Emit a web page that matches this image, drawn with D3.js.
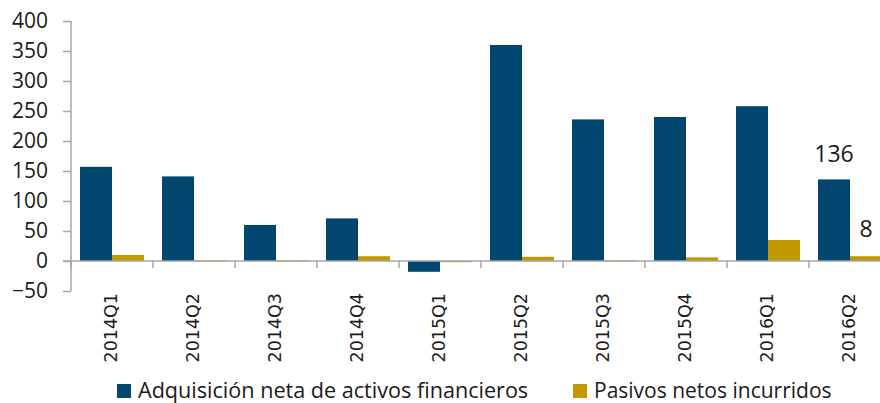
<!DOCTYPE html>
<html><head><meta charset="utf-8">
<script src="https://cdn.jsdelivr.net/npm/d3@7"></script>
<style>body{margin:0;background:#fff}</style>
</head><body>
<svg id="c" width="880" height="403"></svg>
<script>
const categories = ["2014Q1","2014Q2","2014Q3","2014Q4","2015Q1","2015Q2","2015Q3","2015Q4","2016Q1","2016Q2"];
const adquisicion = [157,141,60,71,-18,360,236,240,258,136];
const pasivos = [10,1,1,8,-2,7,1,6,35,8];
const yTicks = [-50,0,50,100,150,200,250,300,350,400];
const seriesNames = ["Adquisición neta de activos financieros","Pasivos netos incurridos"];
const colors = ["#00466e","#c09a00"];

const svg = d3.select("#c");
const x = d3.scaleBand().domain(categories).range([71, 891]).paddingInner(0).paddingOuter(0);
const y = d3.scaleLinear().domain([-50,400]).range([291,21]);
const gap = 0.11;
const sub = d3.scaleBand().domain([0,1]).range([x.bandwidth()*gap, x.bandwidth()*(1-gap)]);
const axisCol = "#a6a6a6";
const txtFont = "'Open Sans', sans-serif";

// bars
const series = [adquisicion, pasivos];
series.forEach((vals, si) => {
  svg.append("g").selectAll("rect").data(vals).join("rect")
    .attr("x", (d,i) => x(categories[i]) + sub(si))
    .attr("width", sub.bandwidth())
    .attr("y", d => y(Math.max(0,d)))
    .attr("height", d => Math.max(1, Math.abs(y(d)-y(0))))
    .attr("fill", colors[si]);
});

// y axis
const yAxis = d3.axisLeft(y).tickValues(yTicks).tickSize(8).tickPadding(15).tickFormat(d3.format("d"));
const gy = svg.append("g").attr("transform","translate(71,0)").call(yAxis);
gy.select(".domain").attr("stroke",axisCol).attr("stroke-width",1.5).attr("d","M0,21V291");
gy.selectAll(".tick line").attr("stroke",axisCol).attr("stroke-width",1.5);
gy.selectAll(".tick text").attr("font-family",txtFont).attr("font-size",21).attr("fill","#1a1a1a");

// x axis at zero
const xAxis = d3.axisBottom(x).tickSize(0).tickFormat("");
const gx = svg.append("g").attr("transform",`translate(0,${y(0)})`).call(xAxis);
gx.select(".domain").attr("stroke",axisCol).attr("stroke-width",1.5).attr("d","M63,0H891");
gx.selectAll(".tick").remove();
const boundaries = categories.map(c => x(c)).concat([x(categories[categories.length-1]) + x.bandwidth()]);
gx.selectAll("line.b").data(boundaries).join("line").attr("class","b")
  .attr("x1",d=>d).attr("x2",d=>d).attr("y1",0).attr("y2",7)
  .attr("stroke",axisCol).attr("stroke-width",1.5);

// x labels
svg.append("g").selectAll("text").data(categories).join("text")
  .attr("transform", d => `translate(${x(d)+x.bandwidth()/2+5},293) rotate(-90)`)
  .attr("text-anchor","end")
  .attr("font-family","'DejaVu Sans', sans-serif").attr("font-size",17.5).attr("fill","#1a1a1a")
  .text(d=>d);

// data labels for last category
const last = categories.length-1;
svg.append("text").attr("x", x(categories[last])+sub(0)+sub.bandwidth()/2)
  .attr("y", y(adquisicion[last])-17).attr("text-anchor","middle")
  .attr("font-family",txtFont).attr("font-size",23).attr("fill","#1a1a1a")
  .text(adquisicion[last]);
svg.append("text").attr("x", x(categories[last])+sub(1)+sub.bandwidth()/2)
  .attr("y", y(pasivos[last])-19).attr("text-anchor","middle")
  .attr("font-family",txtFont).attr("font-size",23).attr("fill","#1a1a1a")
  .text(pasivos[last]);

// legend
const legX = [117, 573];
const legSize = [21.6, 21];
const lg = svg.append("g");
seriesNames.forEach((n,i) => {
  lg.append("rect").attr("x",legX[i]).attr("y",384).attr("width",14).attr("height",14).attr("fill",colors[i]);
  lg.append("text").attr("x",legX[i]+21).attr("y",398)
    .attr("font-family",txtFont).attr("font-size",legSize[i]).attr("fill","#1a1a1a")
    .text(n);
});
</script>
</body></html>
